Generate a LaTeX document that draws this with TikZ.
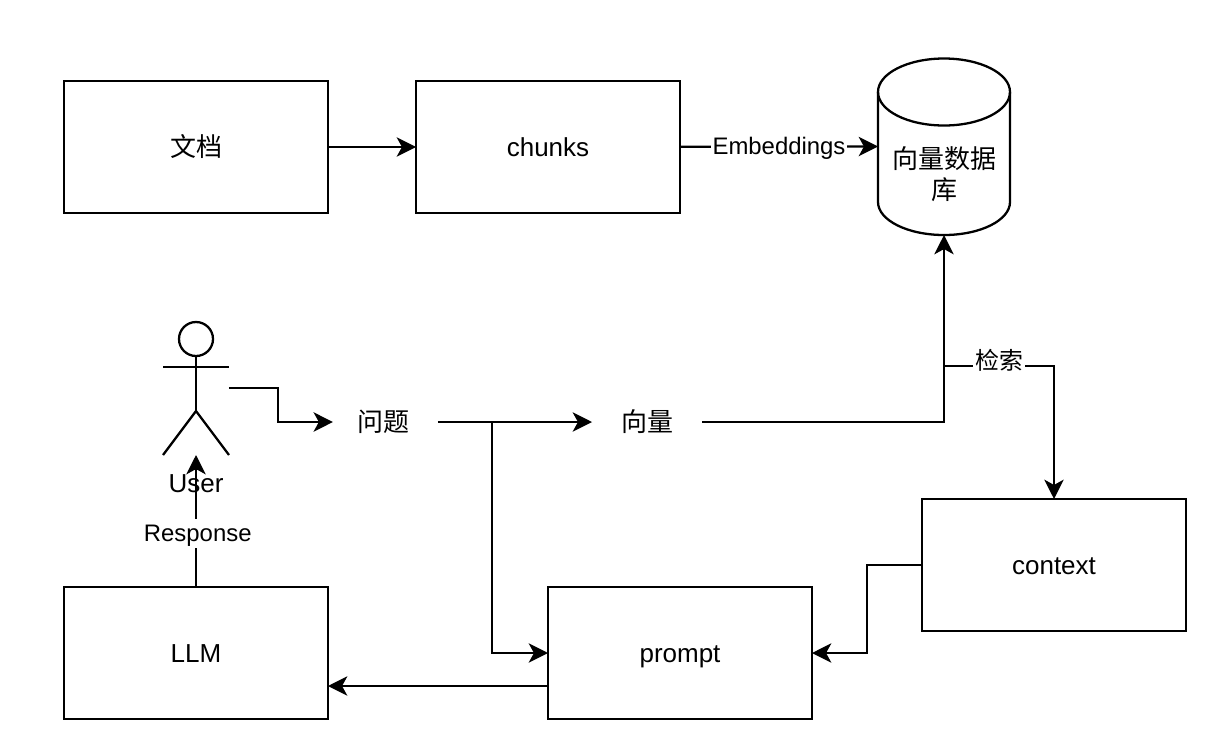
\documentclass[tikz,border=0pt]{standalone}
\usepackage{fontspec}
\setmainfont{Liberation Sans}
\newfontfamily\cjk{Noto Sans CJK SC}
\usetikzlibrary{arrows.meta}
\tikzset{
	every node/.style={outer sep=0pt},
	large/.style={font=\fontsize{14.8}{18}\selectfont,text height=13pt,text depth=2.2pt},
	small/.style={font=\fontsize{13.6}{18}\selectfont,text height=11pt,text depth=2pt},
	box/.style={large,draw,minimum width=5.28cm,minimum height=2.64cm},
	word/.style={large,minimum width=2.2cm,minimum height=1cm,inner sep=0pt},
	tag/.style={small,fill=white,inner xsep=1pt,inner ysep=1.7pt},
	link/.style={-{Stealth[length=11pt,width=11pt,inset=3pt]}},
}
\begin{document}
\begin{tikzpicture}[x=0.02cm,y=-0.02cm,line width=1.3pt]
	\useasboundingbox (0,0) rectangle (1212,748);
	% top row
	\node [box] (doc) at (196,147) {\cjk 文档};
	\node [box] (chunks) at (548,147) {chunks};
	\node [minimum width=2.64cm,minimum height=3.54cm] (db) at (944,146.5) {};
	\draw (878,92) arc [x radius=66,y radius=-33.5,start angle=180,end angle=-180];
	\draw (878,92) -- (878,202) arc [x radius=66,y radius=-33,start angle=180,end angle=360] -- (1010,92);
	\node [align=center,font=\fontsize{14.8}{18}\selectfont\cjk] (dbname) at (944,174) {向量数据\\库};
	% actor
	\node [minimum width=1.32cm,minimum height=2.68cm] (user) at (196,388) {};
	\draw (196,339) circle [radius=17];
	\draw (196,356) -- (196,411);
	\draw (163,367) -- (229,367);
	\draw (163,455) -- (196,411) -- (229,455);
	\node [large] (username) at (196,483) {User};
	% middle row
	\node [word] (question) at (383,422) {\cjk 问题};
	\node [word] (vector) at (647,422) {\cjk 向量};
	% bottom row
	\node [box] (llm) at (196,653) {LLM};
	\node [box] (prompt) at (680,653) {prompt};
	\node [box] (context) at (1054,565) {context};
	\coordinate (fork) at (492,422);
	\coordinate (hit) at (944,366);
	\coordinate (bend) at (867,565);
	% connectors
	\draw [link] (doc) -- (chunks);
	\draw [link] (chunks) -- node [tag] (embed) {Embeddings} (db.west);
	\draw [link,shorten >=-2.8pt] (user.east) -- (278,388) |- (question.west);
	\draw [link] (question) -- (vector);
	\draw [link] (vector.east) -| (db.south);
	\draw [link] (fork) |- (prompt.west);
	\draw [link] (hit) -| node [tag,pos=0.25,yshift=2.4pt] (search) {\cjk 检索} (context.north);
	\draw [link] (context.west) -- (bend) |- (prompt.east);
	\draw [link] ([yshift=-0.66cm]prompt.west) -- ([yshift=-0.66cm]llm.east);
	\draw [link] (llm.north) -- node [tag,pos=0.405,xshift=1pt] (response) {Response} (user.south);
\end{tikzpicture}
\end{document}
